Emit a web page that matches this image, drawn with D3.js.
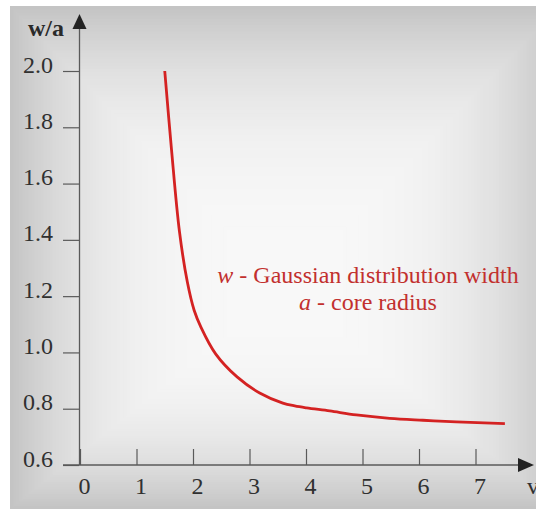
<!DOCTYPE html>
<html>
<head>
<meta charset="utf-8">
<script src="https://cdn.jsdelivr.net/npm/d3@7"></script>
<style>
  html, body { margin: 0; padding: 0; background: #ffffff; }
  svg { display: block; }
</style>
</head>
<body>
<svg id="chart" width="536" height="510"></svg>
<script>
// Normalised Gaussian width w/a versus v
const vValues    = [1.50, 1.62, 1.76, 1.90, 2.02, 2.14, 2.40, 2.78, 3.18, 3.59, 3.80, 4.01, 4.42, 4.89, 5.48, 6.07, 6.66, 7.52];
const widthRatio = [2.00, 1.72, 1.43, 1.25, 1.15, 1.09, 0.995, 0.913, 0.856, 0.820, 0.810, 0.803, 0.792, 0.778, 0.766, 0.759, 0.753, 0.747];

const xTickValues = [0, 1, 2, 3, 4, 5, 6, 7];
const yTickValues = [0.6, 0.8, 1.0, 1.2, 1.4, 1.6, 1.8, 2.0];
const yAxisTitle = "w/a";
const xAxisTitle = "v";
const legendLines = [
  { sym: "w", text: " - Gaussian distribution width" },
  { sym: "a", text: " - core radius" }
];

const svg = d3.select("#chart");
const serif = "'Liberation Serif', 'Times New Roman', serif";

// Panel background: rectangular path gradient, light centre, darker edges
const panel = { left: 10, top: 6, right: 560, bottom: 509, cx: 285, cy: 290 };
const bgColor = d3.interpolateRgb("#c4c4c4", "#f8f8f8");
const steps = 90;
const bg = svg.append("g");
d3.range(steps + 1).forEach(i => {
  const f = i / steps;
  const x0 = panel.left + f * (panel.cx - panel.left);
  const x1 = panel.right - f * (panel.right - panel.cx);
  const y0 = panel.top + f * (panel.cy - panel.top);
  const y1 = panel.bottom - f * (panel.bottom - panel.cy);
  bg.append("rect")
    .attr("x", x0).attr("y", y0)
    .attr("width", Math.max(0, x1 - x0)).attr("height", Math.max(0, y1 - y0))
    .attr("fill", bgColor(1 - Math.pow(1 - f, 3)));
});

// Scales
const x = d3.scaleLinear().domain([0, 8]).range([80, 80 + 8 * 56.5]);
const y = d3.scaleLinear().domain([0.6, 2.0]).range([465, 71]);

const axisColor = "#5a5a5a";
const textColor = "#303030";

// Y axis ticks and labels
const yAxis = svg.append("g")
  .attr("transform", "translate(79,0)")
  .call(d3.axisLeft(y).tickValues(yTickValues).tickFormat(d3.format(".1f"))
        .tickSizeInner(16).tickSizeOuter(0).tickPadding(10));
yAxis.select(".domain").remove();
yAxis.selectAll(".tick line").attr("stroke", axisColor).attr("stroke-width", 1.2);
yAxis.selectAll(".tick text")
  .attr("dy", "1px")
  .attr("font-family", serif).attr("font-size", 24).attr("fill", textColor);

// X axis ticks and labels (ticks point inward)
const xAxis = svg.append("g")
  .attr("transform", "translate(0,465)")
  .call(d3.axisBottom(x).tickValues(xTickValues).tickFormat(d3.format("d"))
        .tickSizeInner(-16).tickSizeOuter(0).tickPadding(0));
xAxis.select(".domain").remove();
xAxis.selectAll(".tick line").attr("stroke", axisColor).attr("stroke-width", 1.2);
xAxis.selectAll(".tick text")
  .attr("y", 29).attr("dy", 0).attr("dx", 4)
  .attr("font-family", serif).attr("font-size", 24).attr("fill", textColor);

// Axis lines with arrowheads
svg.append("line")
  .attr("x1", 63).attr("x2", 520).attr("y1", 465).attr("y2", 465)
  .attr("stroke", axisColor).attr("stroke-width", 1.3);
svg.append("path")
  .attr("d", "M518,458 L534,465 L518,472 Z")
  .attr("fill", "#222");
svg.append("line")
  .attr("x1", 79.5).attr("x2", 79.5).attr("y1", 465).attr("y2", 26)
  .attr("stroke", axisColor).attr("stroke-width", 1.3);
svg.append("path")
  .attr("d", "M72.5,29 L79.5,14 L86.5,29 Z")
  .attr("fill", "#222");

// Axis titles
svg.append("text")
  .attr("x", 28).attr("y", 36)
  .attr("font-family", serif).attr("font-size", 24).attr("font-weight", "bold")
  .attr("fill", "#2a2a2a")
  .text(yAxisTitle);
svg.append("text")
  .attr("x", 527).attr("y", 494)
  .attr("font-family", serif).attr("font-size", 24)
  .attr("fill", textColor)
  .text(xAxisTitle);

// Curve
const line = d3.line()
  .x((d, i) => x(vValues[i]))
  .y(d => y(d))
  .curve(d3.curveCatmullRom.alpha(0.5));
svg.append("path")
  .datum(widthRatio)
  .attr("d", line)
  .attr("fill", "none")
  .attr("stroke", "#d42222")
  .attr("stroke-width", 2.8);

// Legend text
const legendColor = "#c2302e";
const legendCentre = 368;
legendLines.forEach((l, i) => {
  const t = svg.append("text")
    .attr("x", legendCentre).attr("y", 283 + i * 27)
    .attr("text-anchor", "middle")
    .attr("font-family", serif).attr("font-size", 24)
    .attr("fill", legendColor);
  t.append("tspan").attr("font-style", "italic").text(l.sym);
  t.append("tspan").text(l.text);
});
</script>
</body>
</html>
